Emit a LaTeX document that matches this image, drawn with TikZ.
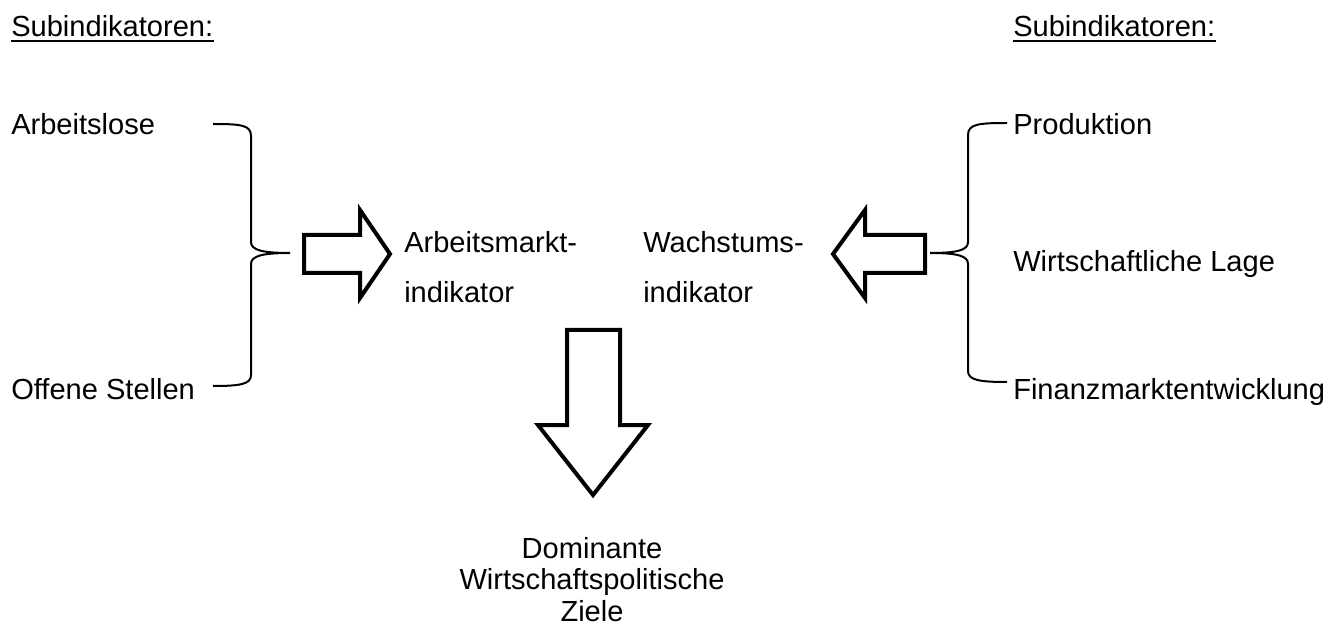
\documentclass[tikz,border=0pt]{standalone}
\usepackage{fontspec}
\setmainfont{Liberation Sans}
\usepackage{tikz}

\tikzset{
  lbl/.style={inner sep=0pt, anchor=base west, font=\fontsize{21.8}{26}\selectfont},
  blockarrow/.style={line width=3pt, line join=miter},
  brace/.style={line width=1.5pt}
}

\begin{document}
\begin{tikzpicture}[x=0.75pt,y=-0.75pt]
\useasboundingbox (0,0) rectangle (1343,627);

% Ueberschriften
\node[lbl] (subl) at (11,37) {Subindikatoren:};
\node[lbl] (subr) at (1013,37) {Subindikatoren:};
\draw[line width=1.5pt] ([yshift=-3pt]subl.base west) -- ([yshift=-3pt]subl.base east);
\draw[line width=1.5pt] ([yshift=-3pt]subr.base west) -- ([yshift=-3pt]subr.base east);

% Subindikatoren links
\node[lbl] (alose) at (11,135) {Arbeitslose};
\node[lbl] (ostellen) at (11,399) {Offene Stellen};
\coordinate (lbtop) at (213,124);
\coordinate (lbtip) at (290,253);
\coordinate (lbbot) at (213,386);
\draw[brace] (lbtop) .. controls (241,124) and (251,125) .. (251,136) -- (251,242)
  .. controls (251,250) and (262,253) .. (lbtip)
  .. controls (262,253) and (251,256) .. (251,264) -- (251,375)
  .. controls (251,384) and (241,386) .. (lbbot);

% Subindikatoren rechts
\node[lbl] (prod) at (1013,135) {Produktion};
\node[lbl] (lage) at (1013,272) {Wirtschaftliche Lage};
\node[lbl] (finanz) at (1013,399) {Finanzmarktentwicklung};
\coordinate (rbtop) at (1007,123);
\coordinate (rbtip) at (930,253);
\coordinate (rbbot) at (1007,382);
\draw[brace] (rbtop) .. controls (979,123) and (968,124) .. (968,135) -- (968,242)
  .. controls (968,250) and (958,253) .. (rbtip)
  .. controls (958,253) and (968,256) .. (968,264) -- (968,371)
  .. controls (968,380) and (979,382) .. (rbbot);

% Blockpfeile
\draw[blockarrow] (304,235) -- (360,235) -- (360,210) -- (390,254) -- (360,298) -- (360,273) -- (304,273) -- cycle;
\draw[blockarrow] (925,235) -- (865,235) -- (865,210) -- (833,254) -- (865,298) -- (865,273) -- (925,273) -- cycle;
\draw[blockarrow] (567,330) -- (620,330) -- (620,425) -- (648,425) -- (593,495) -- (538,425) -- (567,425) -- cycle;

% Indikatoren (base = letzte Zeile)
\node[lbl, align=left, font=\fontsize{21.8}{37.5}\selectfont] (amind) at (404,303) {Arbeitsmarkt-\\indikator};
\node[lbl, align=left, font=\fontsize{21.8}{37.5}\selectfont] (wind) at (643,303) {Wachstums-\\indikator};

% Ziele
\node[lbl, anchor=base, align=center, font=\fontsize{21.8}{23.3}\selectfont] (ziele) at (592,621) {Dominante\\Wirtschaftspolitische\\Ziele};
\end{tikzpicture}
\end{document}
